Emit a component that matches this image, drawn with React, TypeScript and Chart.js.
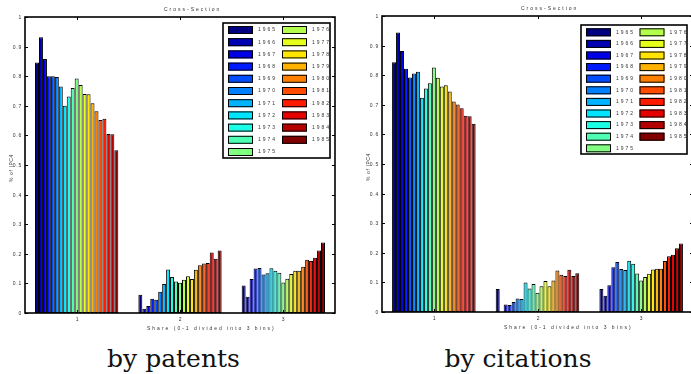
import React, { useEffect, useRef } from 'react';
import { Chart, registerables } from 'chart.js';

Chart.register(...registerables);

// ---------------- data ----------------
const years = ['1965', '1966', '1967', '1968', '1969', '1970', '1971', '1972', '1973', '1974', '1975',
  '1976', '1977', '1978', '1979', '1980', '1981', '1982', '1983', '1984', '1985'];
const binLabels = ['1', '2', '3'];
const yTickLabels = ['0', '0.1', '0.2', '0.3', '0.4', '0.5', '0.6', '0.7', '0.8', '0.9', '1'];

const patentsBin1 = [0.846, 0.932, 0.858, 0.800, 0.800, 0.797, 0.765, 0.700, 0.731, 0.760, 0.792,
  0.770, 0.740, 0.739, 0.709, 0.682, 0.652, 0.656, 0.605, 0.604, 0.550];
const patentsBin2 = [0.062, 0.014, 0.024, 0.048, 0.045, 0.072, 0.098, 0.147, 0.122, 0.106, 0.102,
  0.112, 0.124, 0.115, 0.146, 0.161, 0.167, 0.169, 0.204, 0.183, 0.211];
const patentsBin3 = [0.093, 0.055, 0.115, 0.150, 0.152, 0.130, 0.134, 0.151, 0.143, 0.136, 0.103,
  0.116, 0.132, 0.143, 0.143, 0.156, 0.180, 0.176, 0.187, 0.211, 0.238];

const citationsBin1 = [0.844, 0.944, 0.882, 0.822, 0.792, 0.806, 0.812, 0.724, 0.755, 0.773, 0.826,
  0.791, 0.762, 0.766, 0.745, 0.711, 0.701, 0.688, 0.663, 0.661, 0.636];
const citationsBin2 = [0.078, 0, 0.025, 0.024, 0.034, 0.046, 0.044, 0.100, 0.079, 0.095, 0.065,
  0.087, 0.105, 0.087, 0.106, 0.140, 0.126, 0.122, 0.143, 0.122, 0.131];
const citationsBin3 = [0.078, 0.055, 0.090, 0.151, 0.169, 0.145, 0.142, 0.173, 0.163, 0.130, 0.106,
  0.118, 0.129, 0.144, 0.146, 0.146, 0.172, 0.188, 0.193, 0.215, 0.231];

const titleText = 'Cross-Section';
const xAxisTitle = 'Share (0-1 divided into 3 bins)';
const yAxisTitle = '% of IPC4';
const captions = ['by patents', 'by citations'];

// ---------------- styling helpers ----------------
function clamp(v: number) { return Math.max(0, Math.min(1, v)); }
function jet(t: number) {
  const x = 4 * t;
  const r = clamp(1.5 - Math.abs(x - 3));
  const g = clamp(1.5 - Math.abs(x - 2));
  const b = clamp(1.5 - Math.abs(x - 1));
  return `rgb(${Math.round(r * 255)},${Math.round(g * 255)},${Math.round(b * 255)})`;
}

type PanelCfg = {
  left: number;
  width: number;
  padding: { left: number; right: number; top: number; bottom: number };
  bins: number[][];
  legend: { right: number; top: number; width: number; height: number; rowStep: number; firstRow: number };
};

const SMALL_FONT = '5px "Liberation Sans", Arial, sans-serif';
const TEXT_COLOR = '#333';

function makeDecorPlugin(cfg: PanelCfg) {
  return {
    id: 'matlabDecor',
    afterDraw(chart: any) {
      const ctx: CanvasRenderingContext2D = chart.ctx;
      const ca = chart.chartArea;
      const xs = chart.scales.x;
      const ys = chart.scales.y;
      ctx.save();
      // axes box
      ctx.strokeStyle = '#000';
      ctx.lineWidth = 1.6;
      ctx.strokeRect(ca.left, ca.top, ca.right - ca.left, ca.bottom - ca.top);
      ctx.lineWidth = 1;
      ctx.fillStyle = TEXT_COLOR;
      ctx.font = SMALL_FONT;
      (ctx as any).letterSpacing = '0.8px';
      // y ticks
      ctx.textAlign = 'right';
      ctx.textBaseline = 'middle';
      yTickLabels.forEach((lab) => {
        const y = Math.round(ys.getPixelForValue(parseFloat(lab))) + 0.5;
        ctx.beginPath();
        ctx.moveTo(ca.left, y); ctx.lineTo(ca.left + 3, y);
        ctx.moveTo(ca.right - 3, y); ctx.lineTo(ca.right, y);
        ctx.stroke();
        ctx.fillText(lab, ca.left - 3, y);
      });
      // x ticks
      ctx.textAlign = 'center';
      binLabels.forEach((lab, i) => {
        const x = Math.round(xs.getPixelForValue(i)) + 0.5;
        ctx.beginPath();
        ctx.moveTo(x, ca.top); ctx.lineTo(x, ca.top + 3);
        ctx.moveTo(x, ca.bottom); ctx.lineTo(x, ca.bottom - 3);
        ctx.stroke();
        ctx.fillText(lab, x, ca.bottom + 6.5);
      });
      // titles
      (ctx as any).letterSpacing = '2px';
      ctx.textAlign = 'left';
      ctx.fillText(titleText, ca.left + 139, ca.top - 7.5);
      ctx.fillText(xAxisTitle, ca.left + 122, ca.bottom + 16);
      (ctx as any).letterSpacing = '0.6px';
      ctx.save();
      ctx.translate(ca.left - 13.5, (ca.top + ca.bottom) / 2 + 3);
      ctx.rotate(-Math.PI / 2);
      ctx.textAlign = 'center';
      ctx.fillText(yAxisTitle, 0, 0);
      ctx.restore();
      // legend
      const L = cfg.legend;
      const bx = ca.right - L.right - L.width;
      const by = ca.top + L.top;
      ctx.fillStyle = '#fff';
      ctx.fillRect(bx, by, L.width, L.height);
      ctx.lineWidth = 1.6;
      ctx.strokeStyle = '#000';
      ctx.strokeRect(bx, by, L.width, L.height);
      ctx.lineWidth = 1;
      (ctx as any).letterSpacing = '2px';
      ctx.textAlign = 'left';
      ctx.textBaseline = 'middle';
      const perCol = Math.ceil(years.length / 2);
      const colW = L.width / 2;
      chart.data.datasets.forEach((ds: any, i: number) => {
        const col = Math.floor(i / perCol);
        const row = i % perCol;
        const sx = bx + 5 + col * (colW + 0.5);
        const cy = by + L.firstRow + row * L.rowStep;
        ctx.fillStyle = ds.backgroundColor;
        ctx.fillRect(sx, cy - 4, 25, 8);
        ctx.strokeRect(sx + 0.5, cy - 3.5, 24, 7);
        ctx.fillStyle = TEXT_COLOR;
        ctx.fillText(ds.label, sx + 30, cy);
      });
      (ctx as any).letterSpacing = '0px';
      ctx.restore();
    },
  };
}

function Panel({ cfg }: { cfg: PanelCfg }) {
  const ref = useRef<HTMLCanvasElement>(null);
  useEffect(() => {
    const canvas = ref.current!;
    const chart = new Chart(canvas, {
      type: 'bar',
      data: {
        labels: binLabels,
        datasets: years.map((yr, i) => ({
          label: yr,
          data: cfg.bins.map((arr) => arr[i]),
          backgroundColor: jet(i / (years.length - 1)),
          borderColor: '#000',
          borderWidth: 1,
          borderSkipped: false,
          categoryPercentage: 0.806,
          barPercentage: 1,
        })),
      },
      options: {
        animation: false,
        responsive: false,
        maintainAspectRatio: false,
        devicePixelRatio: 1,
        layout: { padding: cfg.padding },
        plugins: {
          legend: { display: false },
          title: { display: false },
          tooltip: { enabled: false },
        },
        scales: {
          x: { display: false },
          y: { display: false, min: 0, max: 1 },
        },
      },
      plugins: [makeDecorPlugin(cfg)],
    } as any);
    return () => chart.destroy();
  }, [cfg]);
  return (
    <canvas
      ref={ref}
      width={cfg.width}
      height={340}
      style={{ position: 'absolute', left: cfg.left, top: 0, width: cfg.width, height: 340 }}
    />
  );
}

const leftCfg: PanelCfg = {
  left: 0,
  width: 345,
  padding: { left: 25, right: 10, top: 17, bottom: 27 },
  bins: [patentsBin1, patentsBin2, patentsBin3],
  legend: { right: 5, top: 6, width: 107, height: 135, rowStep: 12.2, firstRow: 7 },
};

const rightCfg: PanelCfg = {
  left: 346,
  width: 350,
  padding: { left: 36, right: 3, top: 16, bottom: 28 },
  bins: [citationsBin1, citationsBin2, citationsBin3],
  legend: { right: 6, top: 9, width: 106, height: 129, rowStep: 11.6, firstRow: 7.3 },
};

export default function App() {
  const capStyle: React.CSSProperties = {
    position: 'absolute',
    top: 346,
    width: 300,
    textAlign: 'center',
    fontFamily: '"DejaVu Serif", serif',
    fontSize: 25,
    lineHeight: '25px',
    color: '#111',
    whiteSpace: 'nowrap',
  };
  return (
    <div style={{ position: 'fixed', left: 0, top: 0, width: 691, height: 374, overflow: 'hidden', background: '#fff' }}>
      <Panel cfg={leftCfg} />
      <Panel cfg={rightCfg} />
      <div style={{ ...capStyle, left: 173.5 - 150 }}>{captions[0]}</div>
      <div style={{ ...capStyle, left: 518 - 150 }}>{captions[1]}</div>
    </div>
  );
}
